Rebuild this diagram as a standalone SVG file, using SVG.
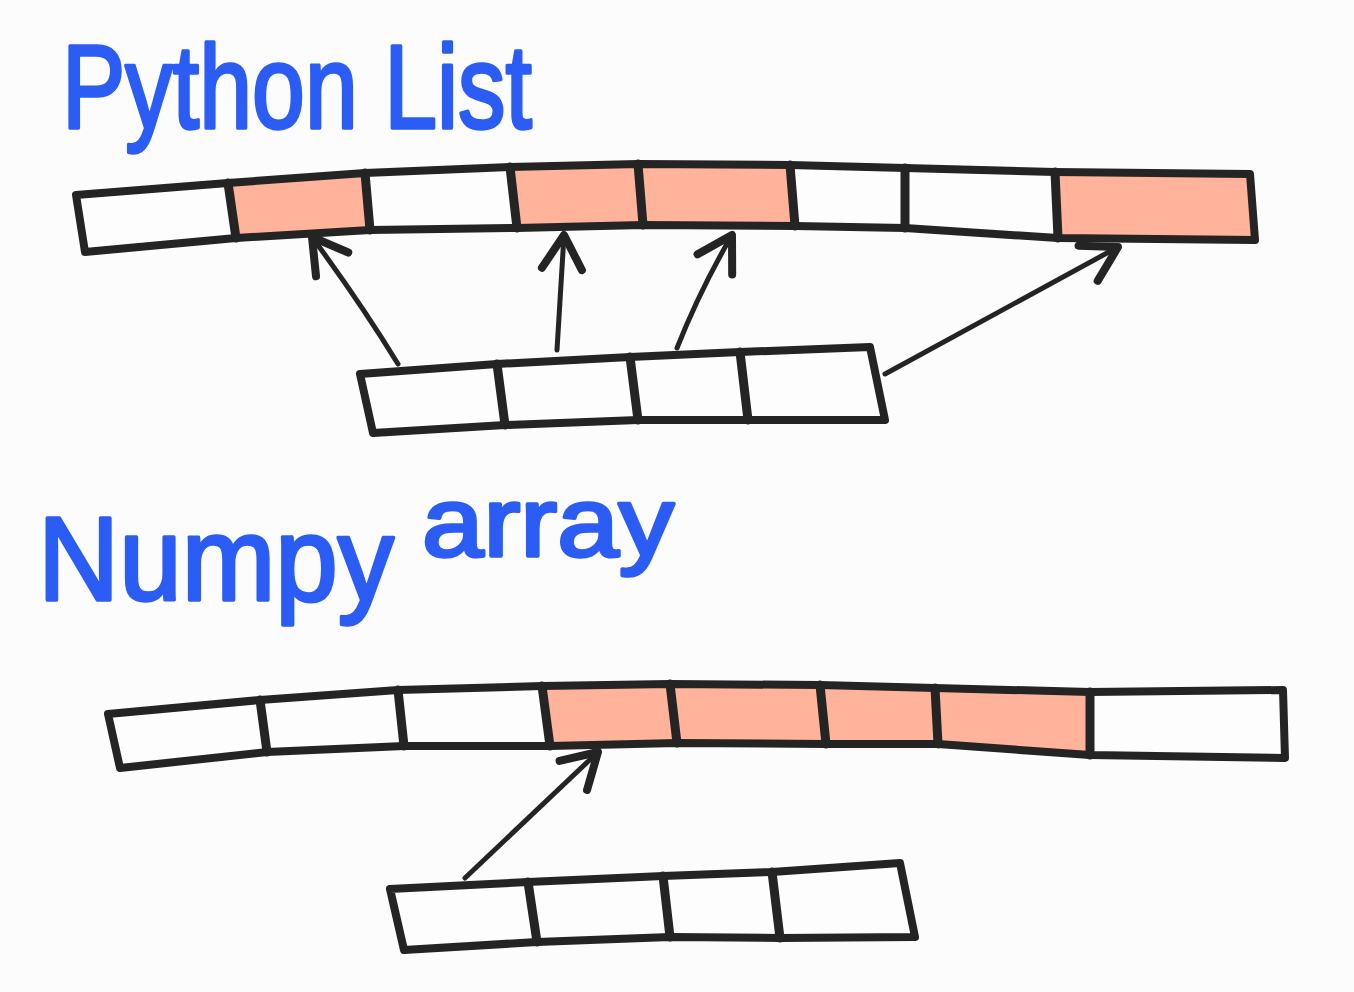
<svg xmlns="http://www.w3.org/2000/svg" width="1354" height="992" viewBox="0 0 1354 992">
<style>
.bg{fill:#fcfcfc}
.title{font-family:"Liberation Sans","DejaVu Sans",sans-serif;fill:#2b5cf4;stroke:#2b5cf4;stroke-width:3.5;stroke-linejoin:round;font-weight:normal}
.cell{fill:#fdfdfd;stroke:none}
.hl{fill:#ffb39b;stroke:none}
.outline{fill:none;stroke:#242424;stroke-width:8;stroke-linejoin:round;stroke-linecap:round}
.div{fill:none;stroke:#242424;stroke-width:9;stroke-linecap:round}
.arr{fill:none;stroke:#242424;stroke-width:5;stroke-linecap:round}
</style>
<defs>
<marker id="head" markerUnits="userSpaceOnUse" markerWidth="60" markerHeight="60" viewBox="-45 -30 60 60" refX="0" refY="0" orient="auto" overflow="visible">
<path d="M-34,-20 L0,0 L-34,20" fill="none" stroke="#242424" stroke-width="8" stroke-linecap="round" stroke-linejoin="round"/>
</marker>
</defs>
<rect class="bg" x="0" y="0" width="1354" height="992"/>

<text class="title" x="62" y="128" font-size="118" textLength="470" lengthAdjust="spacingAndGlyphs">Python List</text>
<text class="title" x="38" y="600" font-size="118"><tspan textLength="356" lengthAdjust="spacingAndGlyphs">Numpy</tspan><tspan x="422" y="556" font-size="98" textLength="252" lengthAdjust="spacingAndGlyphs">array</tspan></text>

<g id="list-memory">
<polygon class="cell" points="76,195 228,183 236,238 85,252"/>
<polygon class="hl" points="228,183 365,173 370,230 236,238"/>
<polygon class="cell" points="365,173 510,167 517,228 370,230"/>
<polygon class="hl" points="510,167 638,164 643,225 517,228"/>
<polygon class="hl" points="638,164 790,165 795,226 643,225"/>
<polygon class="cell" points="790,165 905,168 905,228 795,226"/>
<polygon class="cell" points="905,168 1055,172 1058,238 905,228"/>
<polygon class="hl" points="1055,172 1250,174 1255,240 1058,238"/>
<path class="outline" d="M76,195 L228,183 L365,173 L510,167 L638,164 L790,165 L905,168 L1055,172 L1250,174 L1255,240 L1058,238 L905,228 L795,226 L643,225 L517,228 L370,230 L236,238 L85,252 Z"/>
<path class="div" d="M228,183 L236,238 M365,173 L370,230 M510,167 L517,228 M638,164 L643,225 M790,165 L795,226 M905,168 L905,228 M1055,172 L1058,238"/>
</g>

<g id="list-pointers">
<polygon class="cell" points="360,374 497,364 505,425 373,433"/>
<polygon class="cell" points="497,364 630,357 638,420 505,425"/>
<polygon class="cell" points="630,357 740,352 748,420 638,420"/>
<polygon class="cell" points="740,352 870,347 885,420 748,420"/>
<path class="outline" d="M360,374 L497,364 L630,357 L740,352 L870,347 L885,420 L748,420 L638,420 L505,425 L373,433 Z"/>
<path class="div" d="M497,364 L505,425 M630,357 L638,420 M740,352 L748,420"/>
</g>

<g id="array-memory">
<polygon class="cell" points="108,714 260,700 267,752 120,768"/>
<polygon class="cell" points="260,700 398,690 404,746 267,752"/>
<polygon class="cell" points="398,690 542,686 550,746 404,746"/>
<polygon class="hl" points="542,686 670,684 677,743 550,746"/>
<polygon class="hl" points="670,684 820,685 826,744 677,743"/>
<polygon class="hl" points="820,685 935,688 938,744 826,744"/>
<polygon class="hl" points="935,688 1090,692 1090,755 938,744"/>
<polygon class="cell" points="1090,692 1283,690 1285,758 1090,755"/>
<path class="outline" d="M108,714 L260,700 L398,690 L542,686 L670,684 L820,685 L935,688 L1090,692 L1283,690 L1285,758 L1090,755 L938,744 L826,744 L677,743 L550,746 L404,746 L267,752 L120,768 Z"/>
<path class="div" d="M260,700 L267,752 M398,690 L404,746 M542,686 L550,746 M670,684 L677,743 M820,685 L826,744 M935,688 L938,744 M1090,692 L1090,755"/>
</g>

<g id="array-view">
<polygon class="cell" points="390,889 528,882 537,942 404,950"/>
<polygon class="cell" points="528,882 663,876 670,937 537,942"/>
<polygon class="cell" points="663,876 772,872 780,938 670,937"/>
<polygon class="cell" points="772,872 900,863 915,937 780,938"/>
<path class="outline" d="M390,889 L528,882 L663,876 L772,872 L900,863 L915,937 L780,938 L670,937 L537,942 L404,950 Z"/>
<path class="div" d="M528,882 L537,942 M663,876 L670,937 M772,872 L780,938"/>
</g>

<g id="connectors">
<path class="arr" d="M398,364 Q362,305 312,237" marker-end="url(#head)"/>
<path class="arr" d="M557,350 L564,235" marker-end="url(#head)"/>
<path class="arr" d="M677,348 Q700,290 732,235" marker-end="url(#head)"/>
<path class="arr" d="M885,374 L1118,247" marker-end="url(#head)"/>
<path class="arr" d="M465,878 L598,752" marker-end="url(#head)"/>
</g>
</svg>
